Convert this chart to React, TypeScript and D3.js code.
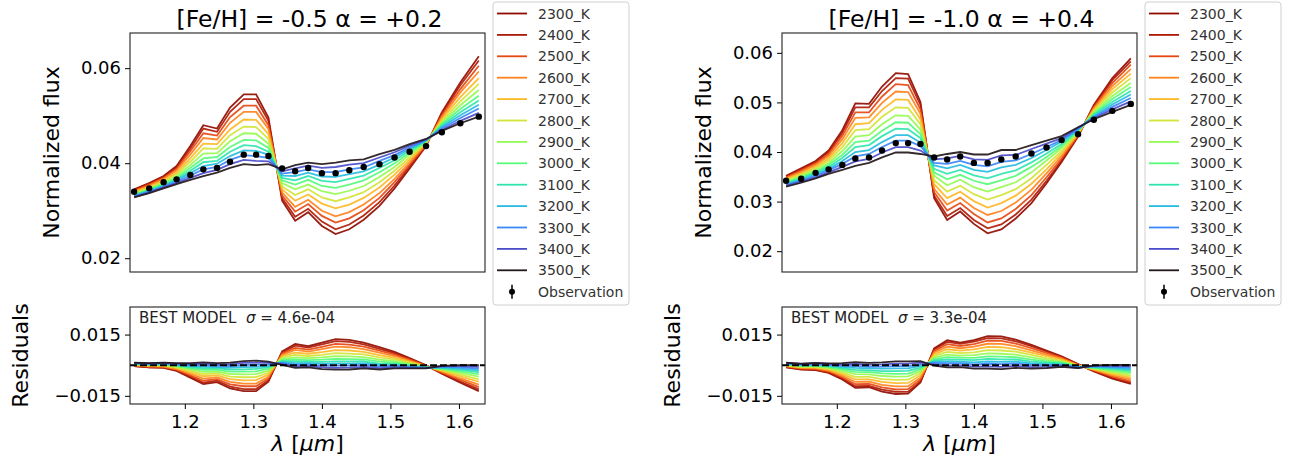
import React, { useEffect, useRef } from 'react';
import * as d3 from 'd3';

// model temperatures, coolest first (drawn first)
const temperatures = ['2300_K', '2400_K', '2500_K', '2600_K', '2700_K', '2800_K', '2900_K',
  '3000_K', '3100_K', '3200_K', '3300_K', '3400_K', '3500_K'];

// wavelength grid (micron)
const wavelengths = [1.126, 1.148, 1.169, 1.188, 1.208, 1.227, 1.247, 1.266, 1.286, 1.304,
  1.322, 1.342, 1.361, 1.380, 1.400, 1.420, 1.440, 1.461, 1.484, 1.506, 1.528, 1.552, 1.575,
  1.602, 1.629];

const xTicks = [1.2, 1.3, 1.4, 1.5, 1.6];
const residualTicks = [0.015, -0.015];
const fluxTicksA = [0.02, 0.04, 0.06];
const fluxTicksB = [0.02, 0.03, 0.04, 0.05, 0.06];

// all fluxes below are in units of 1e-4 (normalized flux)
const obsA = [340, 347, 360, 366, 375, 387, 390, 403, 418, 418, 415, 389, 383, 390, 379, 379,
  385, 392, 398, 412, 424, 436, 465, 484, 498];

// one row per wavelength, one column per temperature
const fluxA = [
  [345, 344, 342, 341, 339, 337, 335, 334, 333, 331, 330, 329, 328],
  [358, 357, 355, 353, 350, 348, 346, 344, 343, 341, 340, 338, 337],
  [373, 371, 369, 367, 364, 361, 358, 356, 354, 352, 350, 349, 347],
  [394, 391, 388, 385, 380, 377, 373, 369, 366, 364, 361, 358, 356],
  [436, 431, 425, 418, 410, 403, 396, 390, 384, 379, 374, 369, 365],
  [480, 473, 463, 453, 441, 431, 420, 410, 402, 394, 387, 379, 373],
  [473, 466, 458, 450, 440, 430, 421, 413, 405, 399, 392, 386, 380],
  [517, 508, 497, 485, 471, 459, 446, 434, 424, 415, 407, 398, 390],
  [545, 535, 521, 508, 492, 477, 463, 449, 438, 427, 417, 407, 398],
  [545, 535, 521, 508, 491, 476, 462, 448, 436, 426, 415, 405, 396],
  [496, 489, 480, 472, 461, 451, 441, 432, 424, 418, 411, 404, 398],
  [321, 326, 332, 338, 345, 351, 358, 364, 369, 374, 378, 383, 387],
  [279, 287, 298, 308, 321, 333, 345, 355, 364, 373, 381, 389, 396],
  [297, 304, 314, 323, 334, 345, 355, 365, 373, 380, 387, 395, 401],
  [268, 277, 289, 300, 315, 328, 341, 352, 363, 372, 381, 390, 398],
  [251, 261, 275, 288, 305, 320, 335, 348, 360, 371, 381, 392, 401],
  [261, 271, 284, 297, 313, 328, 342, 355, 367, 377, 387, 397, 406],
  [281, 290, 301, 313, 327, 339, 352, 364, 374, 383, 391, 400, 408],
  [310, 318, 327, 337, 349, 360, 371, 381, 390, 397, 405, 412, 419],
  [347, 353, 360, 367, 376, 384, 392, 400, 406, 412, 417, 423, 428],
  [389, 393, 397, 402, 407, 412, 418, 422, 426, 430, 433, 437, 440],
  [436, 437, 438, 440, 441, 443, 444, 446, 447, 448, 449, 450, 451],
  [507, 504, 501, 497, 493, 489, 485, 482, 479, 476, 473, 470, 468],
  [570, 564, 556, 549, 539, 530, 522, 514, 507, 501, 495, 489, 484],
  [625, 616, 605, 593, 579, 567, 554, 542, 532, 523, 515, 506, 498],
];

const obsB = [342, 346, 358, 365, 374, 387, 389, 403, 418, 418, 416, 389, 385, 391, 378, 378,
  385, 391, 397, 409, 424, 436, 465, 483, 497];

const fluxB = [
  [352, 351, 349, 347, 345, 343, 340, 338, 337, 335, 333, 332, 330],
  [367, 365, 363, 360, 357, 355, 352, 349, 347, 344, 342, 340, 338],
  [382, 380, 377, 374, 370, 367, 363, 360, 358, 355, 352, 349, 347],
  [403, 400, 396, 392, 387, 383, 378, 374, 370, 366, 363, 359, 356],
  [444, 439, 433, 426, 418, 410, 402, 394, 388, 382, 376, 370, 364],
  [498, 490, 480, 469, 456, 444, 431, 420, 410, 400, 391, 381, 372],
  [497, 490, 480, 470, 458, 446, 434, 423, 414, 404, 396, 386, 378],
  [532, 523, 512, 499, 485, 471, 456, 443, 432, 420, 410, 399, 389],
  [559, 549, 537, 522, 506, 490, 474, 460, 447, 434, 423, 410, 399],
  [557, 548, 535, 521, 505, 489, 473, 459, 446, 434, 423, 410, 399],
  [501, 495, 486, 477, 466, 456, 445, 436, 428, 419, 412, 403, 396],
  [307, 312, 319, 326, 335, 343, 352, 359, 366, 373, 378, 385, 391],
  [263, 271, 282, 294, 307, 320, 333, 345, 356, 367, 376, 387, 396],
  [280, 287, 297, 308, 320, 332, 344, 354, 364, 374, 382, 392, 400],
  [255, 263, 275, 287, 301, 315, 329, 342, 353, 364, 374, 385, 395],
  [236, 246, 258, 273, 288, 304, 320, 335, 347, 360, 371, 384, 395],
  [244, 254, 266, 281, 297, 313, 329, 343, 356, 369, 380, 393, 404],
  [266, 274, 285, 298, 312, 325, 339, 352, 363, 374, 383, 394, 404],
  [297, 304, 313, 324, 336, 347, 359, 370, 379, 388, 396, 406, 414],
  [337, 342, 349, 357, 365, 374, 383, 390, 397, 404, 410, 417, 423],
  [380, 383, 387, 392, 397, 402, 408, 412, 416, 421, 424, 428, 432],
  [431, 432, 434, 435, 437, 439, 441, 443, 444, 446, 447, 449, 450],
  [495, 493, 491, 488, 485, 483, 480, 477, 475, 472, 470, 468, 466],
  [549, 545, 539, 533, 527, 520, 513, 507, 501, 496, 491, 486, 481],
  [589, 583, 576, 567, 558, 549, 539, 531, 523, 516, 509, 502, 495],
];

const panels = [
  { dx: 0, title: '[Fe/H] = -0.5 α = +0.2', sigma: '4.6e-04', obs: obsA, flux: fluxA,
    yDomain: [0.0171, 0.0674], yTicks: fluxTicksA },
  { dx: 652, title: '[Fe/H] = -1.0 α = +0.4', sigma: '3.3e-04', obs: obsB, flux: fluxB,
    yDomain: [0.0158, 0.0640], yTicks: fluxTicksB },
];

const W = 1293, H = 466;
const UNIT = 1e-4;
const FONT = 'DejaVu Sans';
const L = 130, R = 485;
const TOP_T = 33, TOP_B = 272;
const RES_T = 307, RES_B = 404;
const xDomain = [1.12, 1.638];
const resDomain = [-0.019, 0.0285];

const color = (k: number) => d3.interpolateTurbo(1 - k / (temperatures.length - 1));

function styleAxis(a: any) {
  a.select('.domain').remove();
  a.selectAll('line').attr('stroke', '#000').attr('stroke-width', 1);
  a.selectAll('text').attr('fill', '#000').style('font-size', '18px').style('font-family', FONT);
}

function drawPanel(svg: any, p: any) {
  const g = svg.append('g').attr('transform', `translate(${p.dx},0)`).style('font-family', FONT);
  const x = d3.scaleLinear().domain(xDomain).range([L, R]);
  const y = d3.scaleLinear().domain(p.yDomain).range([TOP_B, TOP_T]);
  const yr = d3.scaleLinear().domain(resDomain).range([RES_B, RES_T]);

  const lineTop = d3.line<number>().x((_, i) => x(wavelengths[i])).y(v => y(v * UNIT));
  const lineRes = d3.line<number>().x((_, i) => x(wavelengths[i])).y(v => yr(v * UNIT));

  // top panel: models + observation
  temperatures.forEach((t, k) => {
    const series = p.flux.map((row: number[]) => row[k]);
    g.append('path').attr('d', lineTop(series)).attr('fill', 'none')
      .attr('stroke', color(k)).attr('stroke-width', 1.8).attr('stroke-opacity', 0.92);
  });
  g.selectAll('circle.obs').data(p.obs).enter().append('circle')
    .attr('class', 'obs')
    .attr('cx', (_: number, i: number) => x(wavelengths[i]))
    .attr('cy', (v: number) => y(v * UNIT))
    .attr('r', 3.2).attr('fill', '#000');

  g.append('rect').attr('x', L).attr('y', TOP_T).attr('width', R - L).attr('height', TOP_B - TOP_T)
    .attr('fill', 'none').attr('stroke', '#222').attr('stroke-width', 1.1);

  const ya = g.append('g').attr('transform', `translate(${L},0)`)
    .call(d3.axisLeft(y).tickValues(p.yTicks).tickFormat(d3.format('.2f')).tickSize(5).tickPadding(4));
  styleAxis(ya);

  // residual panel: observation minus model
  temperatures.forEach((t, k) => {
    const series = p.flux.map((row: number[], i: number) => p.obs[i] - row[k]);
    g.append('path').attr('d', lineRes(series)).attr('fill', 'none')
      .attr('stroke', color(k)).attr('stroke-width', 1.8).attr('stroke-opacity', 0.92);
  });
  g.append('line').attr('x1', L).attr('x2', R).attr('y1', yr(0)).attr('y2', yr(0))
    .attr('stroke', '#000').attr('stroke-width', 2).attr('stroke-dasharray', '7,3');

  g.append('rect').attr('x', L).attr('y', RES_T).attr('width', R - L).attr('height', RES_B - RES_T)
    .attr('fill', 'none').attr('stroke', '#222').attr('stroke-width', 1.1);

  const yra = g.append('g').attr('transform', `translate(${L},0)`)
    .call(d3.axisLeft(yr).tickValues(residualTicks).tickFormat(d3.format('.3f')).tickSize(5).tickPadding(4));
  styleAxis(yra);

  const xa = g.append('g').attr('transform', `translate(0,${RES_B})`)
    .call(d3.axisBottom(x).tickValues(xTicks).tickFormat(d3.format('.1f')).tickSize(5).tickPadding(6));
  styleAxis(xa);

  const best = g.append('text').attr('x', L + 9).attr('y', RES_T + 16)
    .style('font-size', '15px').attr('fill', '#222');
  best.append('tspan').text('BEST MODEL\u00a0\u00a0');
  best.append('tspan').style('font-style', 'italic').text('σ');
  best.append('tspan').text('\u00a0=\u00a0' + p.sigma);

  // titles and axis labels
  g.append('text').attr('x', (L + R) / 2 + 2).attr('y', 27).attr('text-anchor', 'middle')
    .style('font-size', '23.5px').attr('fill', '#000').text(p.title);

  g.append('text').attr('transform', `translate(59,${(TOP_T + TOP_B) / 2}) rotate(-90)`)
    .attr('text-anchor', 'middle').style('font-size', '22px').attr('fill', '#000')
    .text('Normalized flux');

  g.append('text').attr('transform', `translate(28,${(RES_T + RES_B) / 2}) rotate(-90)`)
    .attr('text-anchor', 'middle').style('font-size', '22px').attr('fill', '#000')
    .text('Residuals');

  const xl = g.append('text').attr('x', (L + R) / 2).attr('y', 451).attr('text-anchor', 'middle')
    .style('font-size', '22px').attr('fill', '#000');
  xl.append('tspan').style('font-style', 'italic').text('λ');
  xl.append('tspan').text('\u00a0[');
  xl.append('tspan').style('font-style', 'italic').text('μm');
  xl.append('tspan').text(']');

  // legend
  const lx = 493, ly = 2, lw = 136, lh = 303, step = 21.4;
  const lg = g.append('g');
  lg.append('rect').attr('x', lx).attr('y', ly).attr('width', lw).attr('height', lh).attr('rx', 3)
    .attr('fill', '#fff').attr('fill-opacity', 0.8).attr('stroke', '#d0d0d0');
  temperatures.forEach((t, k) => {
    const yy = 13.5 + k * step;
    lg.append('line').attr('x1', lx + 4).attr('x2', lx + 34).attr('y1', yy).attr('y2', yy)
      .attr('stroke', color(k)).attr('stroke-width', 1.8);
    lg.append('text').attr('x', lx + 45).attr('y', yy + 5).style('font-size', '14px')
      .attr('fill', '#333').text(t);
  });
  const oy = 13.5 + temperatures.length * step;
  lg.append('line').attr('x1', lx + 19).attr('x2', lx + 19).attr('y1', oy - 7).attr('y2', oy + 7)
    .attr('stroke', '#000').attr('stroke-width', 1.5);
  lg.append('circle').attr('cx', lx + 19).attr('cy', oy).attr('r', 3).attr('fill', '#000');
  lg.append('text').attr('x', lx + 45).attr('y', oy + 5).style('font-size', '14px')
    .attr('fill', '#333').text('Observation');
}

export default function App() {
  const ref = useRef<SVGSVGElement>(null);
  useEffect(() => {
    const svg = d3.select(ref.current);
    svg.selectAll('*').remove();
    panels.forEach(p => drawPanel(svg, p));
  }, []);
  return (
    <svg ref={ref} width={W} height={H}
      style={{ position: 'absolute', left: 0, top: 0, background: '#fff' }} />
  );
}
